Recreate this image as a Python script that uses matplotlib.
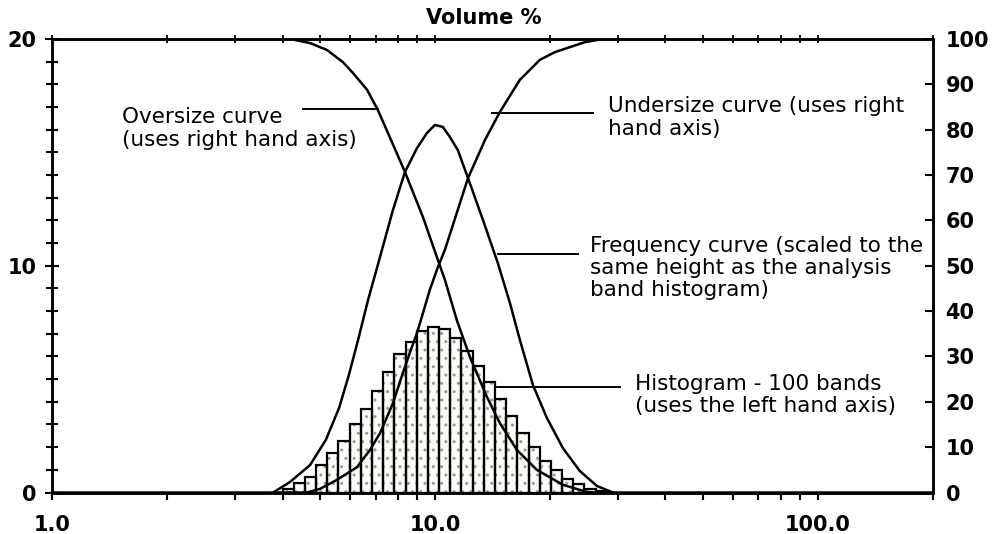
import numpy as np
import matplotlib
matplotlib.use('Agg')
import matplotlib.pyplot as plt
from matplotlib.ticker import LogLocator, NullFormatter, MultipleLocator

plt.rcParams['font.family'] = ['DejaVu Sans']

# histogram - analysis bands (particle size, volume % on left axis)
band_edges = [4.00, 4.28, 4.58, 4.89, 5.23, 5.60, 5.99, 6.40, 6.85, 7.33,
              7.84, 8.38, 8.96, 9.59, 10.25, 10.97, 11.73, 12.54, 13.42, 14.35,
              15.35, 16.42, 17.56, 18.78, 20.08, 21.48, 22.98, 24.57, 26.28, 28.11]
band_vol = [0.15, 0.41, 0.69, 1.21, 1.74, 2.28, 3.02, 3.68, 4.49, 5.30,
            6.11, 6.65, 7.14, 7.30, 7.21, 6.80, 6.26, 5.59, 4.86, 4.12,
            3.39, 2.62, 1.99, 1.40, 0.99, 0.59, 0.37, 0.15, 0.05]

# frequency curve (left axis)
freq_size = [3.78, 4.18, 4.72, 5.19, 5.62, 5.96, 6.30, 6.69, 7.19, 7.77,
             8.35, 8.98, 9.53, 10.0, 10.49, 10.94, 11.48, 12.20, 13.35, 14.60,
             15.70, 16.67, 18.03, 19.61, 21.59, 23.90, 26.49, 29.16]
freq_val = [0.0, 0.46, 1.21, 2.32, 3.73, 5.18, 6.73, 8.49, 10.39, 12.46,
            14.13, 15.19, 15.85, 16.21, 16.12, 15.68, 15.10, 13.87, 12.02, 10.12,
            8.36, 6.73, 4.74, 3.29, 1.96, 0.95, 0.29, 0.0]

# oversize curve (right axis, %)
over_size = [1.0, 4.18, 4.72, 5.22, 5.75, 6.11, 6.65, 7.10, 7.72, 8.35,
             9.31, 10.12, 10.62, 11.41, 12.34, 13.67, 14.78, 16.37, 18.46, 21.59,
             24.94, 26.49, 200.0]
over_pct = [100, 100, 99.1, 97.6, 94.9, 92.5, 88.8, 84.3, 77.3, 70.7,
            60.7, 51.9, 46.9, 38.0, 29.9, 21.1, 15.3, 9.4, 5.0, 1.7,
            0.1, 0, 0]

# undersize curve (right axis, %)
under_size = [1.0, 4.63, 5.01, 5.55, 6.26, 6.77, 7.19, 7.77, 8.25, 8.60,
              8.98, 9.31, 9.70, 10.18, 10.62, 12.20, 13.51, 14.78, 16.67, 18.80,
              20.58, 22.51, 24.64, 27.45, 200.0]
under_pct = [0, 0, 0.8, 2.8, 5.6, 9.4, 13.1, 19.7, 26.4, 30.8,
             35.2, 39.6, 44.7, 49.7, 53.5, 69.3, 77.7, 83.9, 91.0, 95.4,
             97.1, 98.2, 99.3, 100, 100]

fig = plt.figure(figsize=(9.93, 5.34), dpi=100)
ax = fig.add_axes([0.0524, 0.0777, 0.8872, 0.8493])
ax.set_xscale('log')
ax.set_xlim(1, 200)
ax.set_ylim(0, 20)

widths = np.diff(band_edges)
ax.bar(band_edges[:-1], band_vol, width=widths, align='edge',
       facecolor='#fbfbf8', edgecolor='#9a9a9a', hatch='..', linewidth=0)
ax.bar(band_edges[:-1], band_vol, width=widths, align='edge',
       fill=False, edgecolor='black', linewidth=1.6)

ax.plot(freq_size, freq_val, color='black', lw=1.8)

ax2 = ax.twinx()
ax2.set_ylim(0, 100)
ax2.plot(over_size, over_pct, color='black', lw=1.8)
ax2.plot(under_size, under_pct, color='black', lw=1.8)

for sp in list(ax.spines.values()) + list(ax2.spines.values()):
    sp.set_linewidth(1.8)

tick_font = {'fontsize': 15, 'fontweight': 'bold'}

# left axis
ax.set_yticks([0, 10, 20], ['0', '10', '20'], **tick_font)
ax.yaxis.set_minor_locator(MultipleLocator(1))
ax.tick_params(axis='y', which='major', direction='inout', length=10, width=1.5, pad=6)
ax.tick_params(axis='y', which='minor', direction='inout', length=9, width=1.5)

# right axis
ax2.set_yticks(range(0, 101, 10), [str(v) for v in range(0, 101, 10)], **tick_font)
ax2.tick_params(axis='y', direction='in', length=6, width=1.5, pad=9)

# bottom axis
ax.set_xticks([1, 10, 100], ['1.0', '10.0', '100.0'], **tick_font)
ax.xaxis.set_minor_locator(LogLocator(base=10, subs=np.arange(2, 10)))
ax.xaxis.set_minor_formatter(NullFormatter())
ax.tick_params(axis='x', which='both', direction='out', length=5, width=1.5, pad=11)

# top axis ticks (no labels)
ax2.xaxis.set_visible(True)
ax2.xaxis.tick_top()
ax2.xaxis.set_minor_locator(LogLocator(base=10, subs=np.arange(2, 10)))
ax2.xaxis.set_minor_formatter(NullFormatter())
ax2.tick_params(axis='x', which='both', direction='inout', length=6, width=1.3,
                labeltop=False, labelbottom=False, bottom=False)

ax.text(0.49, 1.046, 'Volume %', transform=ax.transAxes, ha='center', va='center',
        fontsize=15, fontweight='bold')

fs = 15.5
ls = 1.15
ax.text(0.0795, 0.8027, 'Oversize curve\n(uses right hand axis)', transform=ax.transAxes,
        ha='left', va='center', fontsize=fs, linespacing=ls)
ax.plot([0.285, 0.370], [0.8457, 0.8457], transform=ax.transAxes, color='black', lw=1.4)

ax.text(0.631, 0.8269, 'Undersize curve (uses right\nhand axis)', transform=ax.transAxes,
        ha='left', va='center', fontsize=fs, linespacing=ls)
ax.plot([0.499, 0.614], [0.8375, 0.8375], transform=ax.transAxes, color='black', lw=1.4)

ax.text(0.6107, 0.495, 'Frequency curve (scaled to the\nsame height as the analysis\n'
        'band histogram)', transform=ax.transAxes, ha='left', va='center', fontsize=fs,
        linespacing=ls)
ax.plot([0.506, 0.597], [0.5259, 0.5259], transform=ax.transAxes, color='black', lw=1.4)

ax.text(0.6617, 0.2150, 'Histogram - 100 bands\n(uses the left hand axis)',
        transform=ax.transAxes, ha='left', va='center', fontsize=fs, linespacing=ls)
ax.plot([0.505, 0.6447], [0.2326, 0.2326], transform=ax.transAxes, color='black', lw=1.4)

fig.savefig('out.png', dpi=100)
